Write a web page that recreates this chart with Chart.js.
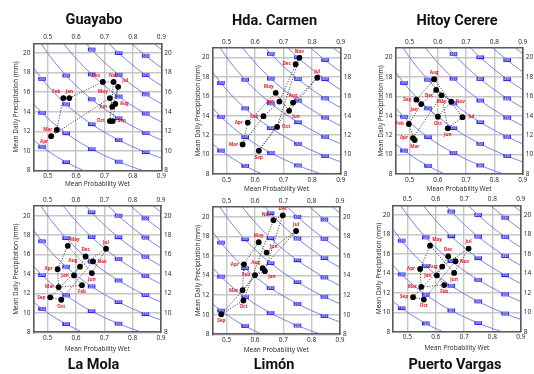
<!DOCTYPE html>
<html>
<head>
<meta charset="utf-8">
<script src="https://cdn.jsdelivr.net/npm/chart.js@4.4.1/dist/chart.umd.min.js"></script>
<style>
  body { margin: 0; background: #fff; width: 534px; height: 374px; position: relative; overflow: hidden; }
  canvas { position: absolute; }
</style>
</head>
<body>
<script>
const MONTHS = ['Jan', 'Feb', 'Mar', 'Apr', 'May', 'Jun', 'Jul', 'Aug', 'Sep', 'Oct', 'Nov', 'Dec']
const X_TICKS = [0.5, 0.6, 0.7, 0.8, 0.9]
const Y_TICKS = [8, 10, 12, 14, 16, 18, 20]
// monthly totals (mm) of the blue iso-lines, month taken as 30 days
const ISO_TOTALS = [150, 200, 250, 300, 350, 400, 450, 500, 550]
const DAYS = 30

// mean probability wet / mean daily precipitation (mm), Jan..Dec
const guayaboWet = [0.576, 0.555, 0.532, 0.512, 0.719, 0.727, 0.748, 0.738, 0.729, 0.719, 0.732, 0.694]
const guayaboRain = [15.4, 15.4, 12.15, 11.5, 15.4, 14.5, 16.55, 14.8, 13.05, 13.05, 17.05, 17.05]

const carmenWet = [0.685, 0.629, 0.556, 0.574, 0.672, 0.719, 0.818, 0.733, 0.613, 0.677, 0.755, 0.742]
const carmenRain = [15.45, 13.95, 11.05, 13.3, 16.35, 14.5, 17.9, 15.35, 10.4, 12.85, 19.95, 19.3]

const hitoyWet = [0.541, 0.497, 0.518, 0.512, 0.613, 0.635, 0.687, 0.587, 0.524, 0.6, 0.647, 0.594]
const hitoyRain = [15.2, 13.15, 11.5, 11.7, 16.1, 12.7, 13.85, 17.75, 15.65, 13.9, 15.45, 16.65]

const molaWet = [0.593, 0.621, 0.539, 0.535, 0.571, 0.656, 0.706, 0.614, 0.509, 0.548, 0.66, 0.634]
const molaRain = [13.85, 12.85, 12.65, 14.5, 16.9, 14.1, 16.6, 14.75, 11.6, 11.35, 15.3, 15.8]

const limonWet = [0.635, 0.6, 0.556, 0.561, 0.613, 0.641, 0.745, 0.627, 0.481, 0.559, 0.665, 0.698]
const limonRain = [14.45, 14.05, 12.5, 15.15, 17.4, 16.35, 18.55, 14.75, 10.05, 11.45, 19.65, 20.15]

const vargasWet = [0.604, 0.63, 0.549, 0.545, 0.58, 0.665, 0.716, 0.623, 0.52, 0.558, 0.67, 0.644]
const vargasRain = [13.8, 12.8, 12.6, 14.45, 16.85, 14.05, 16.55, 14.7, 11.55, 11.3, 15.25, 15.75]

// where each month label sits around its dot
const guayaboSide = ['t', 'tl', 'l', 'bl', 'tl', 'l', 'tr', 'r', 'r', 'l', 't', 'tl']
const carmenSide = ['l', 'l', 'l', 'l', 'tl', 'br', 't', 't', 'b', 'r', 't', 'l']
const hitoySide = ['bl', 'l', 'b', 'l', 'b', 'b', 'r', 't', 'l', 'b', 'r', 'bl']
const molaSide = ['l', 'b', 'l', 'l', 'tr', 'b', 't', 'tl', 'l', 'b', 'r', 't']
const limonSide = ['br', 'l', 'l', 'l', 't', 'tr', 't', 'tl', 'b', 'b', 'tl', 't']
const vargasSide = ['l', 'b', 'l', 'l', 'tr', 'b', 't', 'l', 'l', 'b', 'r', 't']

const ISO_LABEL_X = [0.48, 0.565, 0.655, 0.75, 0.845]
const OFFSETS = { t: [0, -6.5], b: [0, 6.5], l: [-9, 0], r: [9, 0], tl: [-7, -6], tr: [7, -6], bl: [-7, 6], br: [7, 6] }
const FONT = '"Open Sans", "Noto Sans", sans-serif'

const marksPlugin = {
    id: 'marks',
    afterDatasetDraw(chart, args) {
        const ds = chart.data.datasets[args.index]
        if (ds.isoTotal == null) return
        const ctx = chart.ctx
        const xs = chart.scales.x, ys = chart.scales.y
        ctx.save()
        ctx.font = 'bold 3.4px ' + FONT
        ctx.textAlign = 'center'
        ctx.textBaseline = 'middle'
        ISO_LABEL_X.forEach(px => {
            const v = ds.isoTotal / DAYS / px
            if (v < 8.5 || v > 20.6) return
            const cx = xs.getPixelForValue(px), cy = ys.getPixelForValue(v)
            ctx.fillStyle = '#2a2aef'
            ctx.fillRect(cx - 3.8, cy - 1.9, 7.6, 3.8)
            ctx.fillStyle = '#c8c8ff'
            ctx.fillText(String(ds.isoTotal), cx, cy + 0.2)
        })
        ctx.restore()
    },
    afterDatasetsDraw(chart) {
        const idx = chart.data.datasets.findIndex(d => d.monthSides)
        const ds = chart.data.datasets[idx]
        const meta = chart.getDatasetMeta(idx)
        const ctx = chart.ctx
        ctx.save()
        ctx.font = 'bold 4.6px ' + FONT
        ctx.textAlign = 'center'
        ctx.textBaseline = 'middle'
        ctx.fillStyle = '#e8141c'
        meta.data.forEach((pt, i) => {
            const off = OFFSETS[ds.monthSides[i]]
            ctx.fillText(MONTHS[i], pt.x + off[0], pt.y + off[1])
        })
        ctx.restore()
    }
}

function fixedTicks(values) {
    return scale => { scale.ticks = values.map(v => ({ value: v })) }
}

function makePanel(title, wet, rain, sides, box) {
    const AX_HALF = 3.9
    const left = Math.floor(box.yTitleX - AX_HALF)
    const right = Math.ceil(box.R + 14)
    let top, bottom, x2H, titlePad
    const xH = box.xTitleY + AX_HALF - box.B
    if (box.row === 'top') {
        top = Math.floor(box.titleY - 8.4 - 2)
        titlePad = { top: box.titleY - 8.4 - top, bottom: 0 }
        x2H = box.T - (box.titleY + 8.4)
        bottom = Math.ceil(box.B + xH)
    } else {
        top = Math.floor(box.T - 12)
        x2H = box.T - top
        titlePad = { top: box.titleY - 8.4 - (box.B + xH), bottom: 0 }
        bottom = Math.ceil(box.titleY + 8.4)
    }
    const yW = box.L - left
    const y2W = right - box.R

    const canvas = document.createElement('canvas')
    canvas.width = right - left
    canvas.height = bottom - top
    canvas.style.left = left + 'px'
    canvas.style.top = top + 'px'
    canvas.style.width = (right - left) + 'px'
    canvas.style.height = (bottom - top) + 'px'
    document.body.appendChild(canvas)

    const points = wet.map((w, i) => ({ x: w, y: rain[i] }))
    const datasets = ISO_TOTALS.map(total => {
        const line = []
        for (let k = 0; k <= 90; k++) {
            const px = 0.45 + k * 0.005
            line.push({ x: px, y: total / DAYS / px })
        }
        return {
            isoTotal: total,
            data: line,
            showLine: true,
            borderColor: 'rgba(90,90,228,0.8)',
            borderWidth: 1,
            pointRadius: 0,
            order: 3
        }
    })
    datasets.push({
        data: points.concat([points[0]]),
        showLine: true,
        borderColor: '#333',
        borderWidth: 1,
        borderDash: [1, 1.6],
        pointRadius: 0,
        order: 2
    })
    datasets.push({
        monthSides: sides,
        data: points,
        backgroundColor: '#000',
        borderWidth: 0,
        pointRadius: 2.9,
        order: 1
    })

    const tickFont = { family: FONT, size: 6.5 }
    const axisTitle = { display: true, font: { family: FONT, size: 6.5 }, color: '#222', padding: 0 }
    const axisBorder = { display: true, color: '#5a5a5a', width: 1.6 }

    new Chart(canvas, {
        type: 'scatter',
        data: { datasets: datasets },
        options: {
            responsive: false,
            devicePixelRatio: 1,
            animation: false,
            events: [],
            layout: { padding: 0, autoPadding: false },
            plugins: {
                legend: { display: false },
                tooltip: { enabled: false },
                title: {
                    display: true,
                    text: title,
                    position: box.row === 'top' ? 'top' : 'bottom',
                    color: '#111',
                    font: { family: 'Roboto, ' + FONT, size: 14.5, weight: 'bold' },
                    padding: titlePad
                }
            },
            scales: {
                x: {
                    type: 'linear', position: 'bottom', min: 0.45, max: 0.9,
                    afterBuildTicks: fixedTicks(X_TICKS),
                    afterFit: s => { s.height = xH },
                    grid: { color: '#c6c6c6', lineWidth: 1.4, drawTicks: false },
                    border: axisBorder,
                    ticks: { font: tickFont, color: '#222', padding: 2, maxRotation: 0, callback: v => v.toFixed(1) },
                    title: Object.assign({ text: 'Mean Probability Wet' }, axisTitle)
                },
                x2: {
                    type: 'linear', position: 'top', min: 0.45, max: 0.9,
                    afterBuildTicks: fixedTicks(X_TICKS),
                    afterFit: s => { s.height = x2H },
                    grid: { display: false, drawTicks: false },
                    border: axisBorder,
                    ticks: { font: tickFont, color: '#222', padding: 2, maxRotation: 0, callback: v => v.toFixed(1) }
                },
                y: {
                    type: 'linear', position: 'left', min: 8, max: 21,
                    afterBuildTicks: fixedTicks(Y_TICKS),
                    afterFit: s => { s.width = yW },
                    grid: { color: '#c6c6c6', lineWidth: 1.4, drawTicks: false },
                    border: axisBorder,
                    ticks: { font: tickFont, color: '#222', padding: 3 },
                    title: Object.assign({ text: 'Mean Daily Precipitation (mm)' }, axisTitle)
                },
                y2: {
                    type: 'linear', position: 'right', min: 8, max: 21,
                    afterBuildTicks: fixedTicks(Y_TICKS),
                    afterFit: s => { s.width = y2W },
                    grid: { display: false, drawTicks: false },
                    border: axisBorder,
                    ticks: { font: tickFont, color: '#222', padding: 3 }
                }
            }
        },
        plugins: [marksPlugin]
    })
}

makePanel('Guayabo', guayaboWet, guayaboRain, guayaboSide,
    { row: 'top', L: 33.5, T: 42.7, R: 161.3, B: 170, yTitleX: 16.7, xTitleY: 183.7, titleY: 20 })
makePanel('Hda. Carmen', carmenWet, carmenRain, carmenSide,
    { row: 'top', L: 212.4, T: 47, R: 340.7, B: 173.3, yTitleX: 198.3, xTitleY: 188.3, titleY: 21 })
makePanel('Hitoy Cerere', hitoyWet, hitoyRain, hitoySide,
    { row: 'top', L: 395.5, T: 47, R: 522.7, B: 173.3, yTitleX: 381.7, xTitleY: 188.3, titleY: 21 })
makePanel('La Mola', molaWet, molaRain, molaSide,
    { row: 'bottom', L: 33.5, T: 206, R: 161, B: 332.3, yTitleX: 16.7, xTitleY: 349, titleY: 365 })
makePanel('Limón', limonWet, limonRain, limonSide,
    { row: 'bottom', L: 212.5, T: 207, R: 340, B: 334.3, yTitleX: 198.3, xTitleY: 350, titleY: 365 })
makePanel('Puerto Vargas', vargasWet, vargasRain, vargasSide,
    { row: 'bottom', L: 393.2, T: 205.3, R: 520.7, B: 331.7, yTitleX: 379, xTitleY: 348.3, titleY: 365 })
</script>
</body>
</html>
